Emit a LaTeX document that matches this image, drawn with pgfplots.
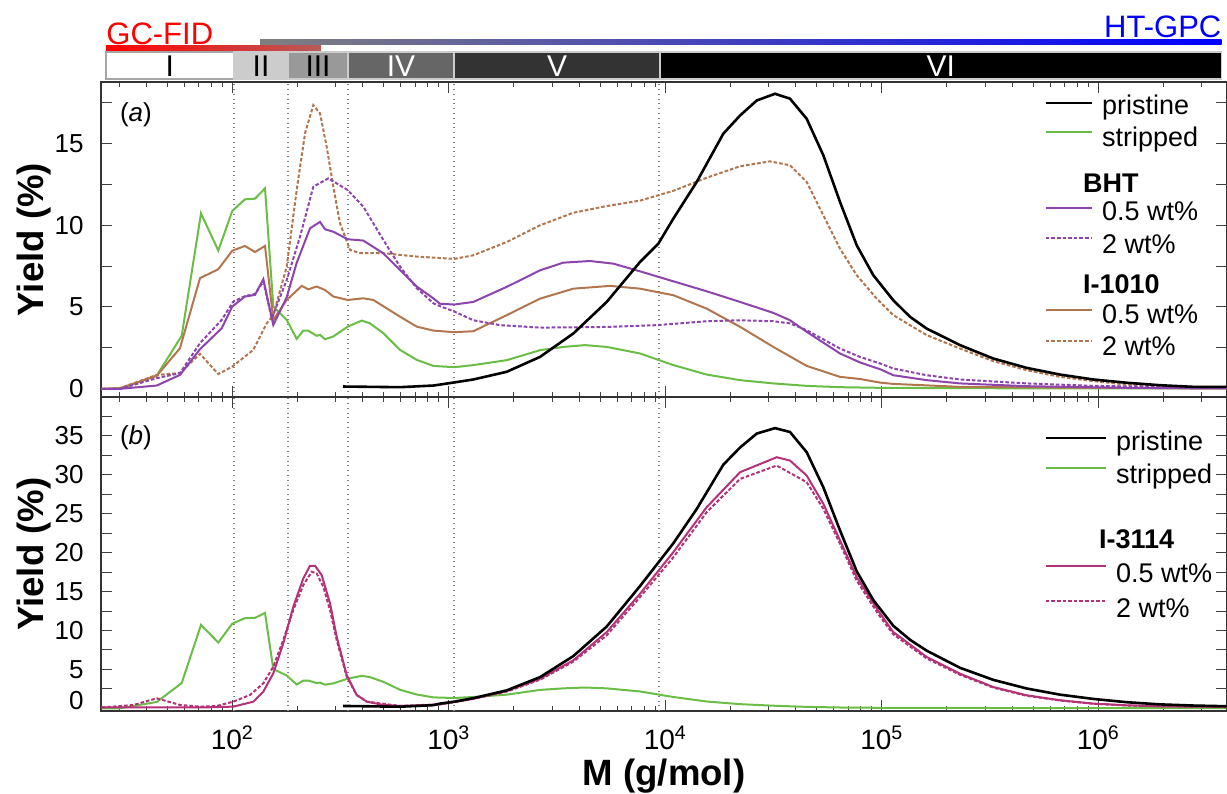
\documentclass[border=0pt]{standalone}
\usepackage{fontspec}
\setmainfont{Liberation Sans}
\usepackage{pgfplots}
\pgfplotsset{compat=1.18}
\definecolor{cgreen}{RGB}{106,190,70}
\definecolor{cpurple}{RGB}{142,68,173}
\definecolor{cbrown}{RGB}{178,118,78}
\definecolor{cmag}{RGB}{180,50,120}
\definecolor{gcend}{RGB}{185,90,90}
\newcommand\fs[1]{\fontsize{#1}{#1}\selectfont}
\begin{document}
\begin{tikzpicture}
% ---------------- panel (a) ----------------
\begin{axis}[scale only axis, width=563pt, xmode=log,
  xmin=24.75, xmax=3.93e6,
  axis line style={black!80, line width=0.8pt},
  tick style={black!75, line width=0.5pt},
  major tick length=5.5pt, minor tick length=2.5pt,
  ylabel style={font=\bfseries\fs{18.3}, at={(axis description cs:-0.0515,0.5)}, anchor=base},
  legend cell align=left,
  legend style={draw=none, fill=none, inner sep=0pt, row sep=0pt, nodes={inner sep=0.5pt, text depth=0pt}, font=\fs{13.5}},
  xtick={1e2,1e3,1e4,1e5,1e6},
  minor xtick={30,40,50,60,70,80,90,200,300,400,500,600,700,800,900,2000,3000,4000,5000,6000,7000,8000,9000,2e4,3e4,4e4,5e4,6e4,7e4,8e4,9e4,2e5,3e5,4e5,5e5,6e5,7e5,8e5,9e5,2e6,3e6},
  extra x ticks={101.8,180.9,342.3,1057,9350},
  extra x tick labels={},
  extra x tick style={grid=major, major grid style={black!50, dotted, line width=0.6pt}, major tick length=0pt},
  at={(0pt,157pt)}, anchor=south west, height=157.5pt,
  ymin=-0.5, ymax=18.75, ytick={0,5,10,15}, yticklabels={},
  extra y ticks={2.5,7.5,12.5,17.5}, extra y tick labels={},
  xticklabels={}, clip=false,
  ylabel={Yield (\%)},
  legend style={at={(axis description cs:0.8375,0.976)}, anchor=north west},
  legend image code/.code={\draw[#1] (0pt,0pt) -- (23pt,0pt); \path (27pt,0pt);},
]
\addlegendimage{black, line width=1.3pt}\addlegendentry{\rule{0pt}{12pt}pristine}
\addlegendimage{cgreen, line width=1pt}\addlegendentry{\rule{0pt}{15pt}stripped}
\addlegendimage{empty legend}\addlegendentry{\hspace*{-9.5pt}\rule{0pt}{22pt}\textbf{BHT}}
\addlegendimage{cpurple, line width=1pt}\addlegendentry{\rule{0pt}{12.7pt}0.5 wt\%}
\addlegendimage{cpurple, line width=1pt, dash pattern=on 1.8pt off 1pt}\addlegendentry{\rule{0pt}{15.65pt}2 wt\%}
\addlegendimage{empty legend}\addlegendentry{\hspace*{-9.5pt}\rule{0pt}{19pt}\textbf{I-1010}}
\addlegendimage{cbrown, line width=1pt}\addlegendentry{\rule{0pt}{14pt}0.5 wt\%}
\addlegendimage{cbrown, line width=1pt, dash pattern=on 1.8pt off 1pt}\addlegendentry{\rule{0pt}{14.85pt}2 wt\%}

% stripped
\addplot[cgreen, line width=1pt, forget plot] coordinates {
(24.94,0) (30.29,0) (44.76,0.81) (58.39,3.24) (71.69,10.72) (86.16,8.45) (100,10.87) (114.4,11.58) (127.3,11.62) (141.6,12.25) (154.7,5.03) (178.4,4.21) (198.4,3.05) (212.8,3.56) (224.4,3.55) (245.4,3.24) (254.2,3.3) (268.1,3.03) (292.8,3.2) (341.2,3.8) (396,4.17) (432.5,4.0) (498.3,3.4) (595.1,2.38) (710.8,1.77) (848.2,1.4) (1060,1.32) (1298,1.45) (1851,1.75) (2638,2.36) (3380,2.56) (4257,2.67) (5362,2.56) (7640,2.16) (10890,1.45) (15530,0.87) (22130,0.53) (31540,0.33) (44990,0.18) (64110,0.1) (98100,0.06) (229700,0.04) (948200,0.02) (3.918e6,0.02)};
% I-1010 2 wt%
\addplot[cbrown, line width=1pt, dash pattern=on 1.8pt off 1pt, forget plot] coordinates {
(24.94,0) (30.29,0.04) (44.76,0.85) (57.33,0.96) (70.93,2.14) (86.16,0.9) (100,1.36) (125,2.38) (144.2,4.0) (154.7,4.5) (178.4,7.47) (198.4,12.15) (216.7,15.61) (236.7,17.34) (254.2,16.83) (272.9,14.79) (292.8,12.35) (314.4,10.12) (349.7,8.49) (388.9,8.29) (498.3,8.29) (710.8,8.08) (1060,7.94) (1298,8.16) (1851,8.97) (2638,9.99) (3759,10.76) (5362,11.17) (7640,11.5) (10890,12.1) (15530,12.9) (22130,13.6) (30450,13.9) (37670,13.66) (44990,12.64) (53690,10.6) (64110,8.57) (76590,6.94) (94730,5.51) (113000,4.5) (161250,3.28) (229700,2.46) (327300,1.69) (466900,1.14) (665500,0.73) (948200,0.47) (1.353e6,0.26) (1.928e6,0.18) (2.747e6,0.12) (3.918e6,0.12)};
% I-1010 0.5 wt%
\addplot[cbrown, line width=1pt, forget plot] coordinates {
(24.94,0) (30.29,0.04) (44.76,0.79) (57.33,2.48) (70.93,6.76) (86.16,7.31) (100,8.44) (114.4,8.73) (127.3,8.36) (141.6,8.73) (154.7,4.21) (178.4,5.43) (209.2,6.29) (224.4,6.08) (245.4,6.25) (268.1,6.04) (292.8,5.64) (341.2,5.43) (402.8,5.53) (448,5.43) (595.1,4.41) (710.8,3.8) (848.2,3.56) (1060,3.46) (1298,3.52) (1851,4.5) (2638,5.51) (3759,6.12) (5554,6.29) (7640,6.12) (10890,5.72) (15530,4.9) (22130,3.79) (31540,2.56) (44990,1.4) (64110,0.73) (79320,0.6) (98100,0.38) (113000,0.3) (229700,0.12) (948200,0.06) (3.918e6,0.02)};
% BHT 2 wt%
\addplot[cpurple, line width=1pt, dash pattern=on 1.8pt off 1pt, forget plot] coordinates {
(24.94,0) (30.29,0) (44.76,0.65) (57.33,0.96) (70.93,2.79) (89.33,4.21) (101.1,5.33) (114.4,5.66) (127.3,5.8) (139.1,6.55) (152.1,4.3) (178.4,6.65) (205.5,9.3) (236.7,12.35) (277.6,12.86) (341.2,12.15) (402.8,11.13) (498.3,9.1) (595.1,7.47) (710.8,6.15) (848.2,5.23) (910.9,5.05) (1060,4.72) (1298,4.19) (1724,3.89) (2638,3.74) (5362,3.78) (9127,3.89) (15530,4.13) (22130,4.19) (31540,4.13) (37670,4.0) (44990,3.58) (64110,2.46) (79320,1.95) (98100,1.55) (113000,1.24) (161250,0.83) (229700,0.57) (466900,0.33) (948200,0.18) (1.928e6,0.12) (3.918e6,0.05)};
% BHT 0.5 wt%
\addplot[cpurple, line width=1pt, forget plot] coordinates {
(24.94,0) (30.29,0) (44.76,0.2) (57.33,0.85) (70.93,2.42) (89.33,3.7) (100,5.03) (114.4,5.64) (127.3,5.74) (139.1,6.7) (154.7,3.9) (178.4,5.6) (198.4,7.7) (228.5,9.81) (254.2,10.2) (268.1,9.75) (292.8,9.6) (341.2,9.14) (402.8,9.06) (498.3,8.28) (595.1,7.26) (710.8,6.25) (848.2,5.53) (910.9,5.2) (1060,5.15) (1298,5.31) (1851,6.23) (2638,7.24) (3380,7.71) (4489,7.81) (5752,7.65) (7640,7.18) (10890,6.57) (15530,5.96) (22130,5.31) (31540,4.64) (37670,4.19) (44990,3.48) (64110,2.16) (79320,1.61) (98100,1.2) (113000,0.83) (161250,0.53) (229700,0.33) (466900,0.16) (1.353e6,0.06) (3.918e6,0.02)};
% pristine
\addplot[black, line width=1.3pt, forget plot] coordinates {
(324.6,0.14) (595.1,0.1) (848.2,0.2) (910.9,0.26) (1060,0.39) (1298,0.57) (1851,1.04) (2638,1.95) (3759,3.38) (5362,5.31) (7640,7.75) (9284,8.87) (10890,10.4) (13960,12.64) (18530,15.59) (22130,16.7) (26440,17.62) (32120,18.03) (37670,17.73) (44990,16.5) (53690,14.27) (64110,11.42) (76590,8.77) (91360,6.94) (113000,5.41) (134970,4.4) (161250,3.68) (229700,2.67) (327300,1.85) (466900,1.28) (665500,0.87) (948200,0.57) (1.353e6,0.37) (1.928e6,0.22) (2.747e6,0.12) (3.918e6,0.12)};

% y tick labels
\node[font=\fs{13}, anchor=east, inner sep=0pt, xshift=-8.5pt] at (axis cs:24.75,0) {0};
\node[font=\fs{13}, anchor=east, inner sep=0pt, xshift=-8.5pt] at (axis cs:24.75,5) {5};
\node[font=\fs{13}, anchor=east, inner sep=0pt, xshift=-8.5pt] at (axis cs:24.75,10) {10};
\node[font=\fs{13}, anchor=east, inner sep=0pt, xshift=-8.5pt] at (axis cs:24.75,15) {15};

\node[font=\fs{13}] at (axis description cs:0.031,0.897) {(\textit{a})};

% region band
\filldraw[line width=0.6pt, fill=white, draw=gray!70] (axis cs:26.1,18.933) rectangle (axis cs:101.8,20.583);
\filldraw[line width=0.6pt, fill=black!20, draw=gray!40] (axis cs:101.8,18.933) rectangle (axis cs:180.9,20.583);
\filldraw[line width=0.6pt, fill=black!40, draw=gray!40] (axis cs:180.9,18.933) rectangle (axis cs:342.3,20.583);
\filldraw[line width=0.6pt, fill=black!60, draw=gray!40] (axis cs:342.3,18.933) rectangle (axis cs:1057,20.583);
\filldraw[line width=0.6pt, fill=black!80, draw=gray!40] (axis cs:1057,18.933) rectangle (axis cs:9452,20.583);
\filldraw[line width=0.6pt, fill=black, draw=gray!40] (axis cs:9452,18.933) rectangle (axis cs:3.715e6,20.583);
\node[font=\fs{15}, anchor=base, inner sep=0pt] at (axis cs:51.5,19.08) {I};
\node[font=\fs{15}, anchor=base, inner sep=0pt] at (axis cs:135.7,19.08) {II};
\node[font=\fs{15}, anchor=base, inner sep=0pt] at (axis cs:248.8,19.08) {III};
\node[font=\fs{15}, anchor=base, inner sep=0pt, text=white] at (axis cs:601.5,19.08) {IV};
\node[font=\fs{15}, anchor=base, inner sep=0pt, text=white] at (axis cs:3161,19.08) {V};
\node[font=\fs{15}, anchor=base, inner sep=0pt, text=white] at (axis cs:187400,19.08) {VI};
\shade[left color=red, right color=gcend] (axis cs:26.1,20.666) rectangle (axis cs:256.9,20.953);
\shade[left color=gray, right color=blue] (axis cs:134.3,21.03) rectangle (axis cs:3.715e6,21.32);
\node[font=\fs{15.5}, text=red, anchor=base west, inner sep=0pt] at (axis cs:26.1,21.072) {GC-FID};
\node[font=\fs{15.5}, text=blue, anchor=base east, inner sep=0pt] at (axis cs:3.715e6,21.47) {HT-GPC};
\end{axis}

% ---------------- panel (b) ----------------
\begin{axis}[scale only axis, width=563pt, xmode=log,
  xmin=24.75, xmax=3.93e6,
  axis line style={black!80, line width=0.8pt},
  tick style={black!75, line width=0.5pt},
  major tick length=5.5pt, minor tick length=2.5pt,
  ylabel style={font=\bfseries\fs{18.3}, at={(axis description cs:-0.0515,0.5)}, anchor=base},
  xlabel style={font=\bfseries\fs{18.3}, at={(axis description cs:0.5,0)}, anchor=base, yshift=-37pt},
  legend cell align=left,
  legend style={draw=none, fill=none, inner sep=0pt, row sep=0pt, nodes={inner sep=0.5pt, text depth=0pt}, font=\fs{13.5}},
  xtick={1e2,1e3,1e4,1e5,1e6},
  minor xtick={30,40,50,60,70,80,90,200,300,400,500,600,700,800,900,2000,3000,4000,5000,6000,7000,8000,9000,2e4,3e4,4e4,5e4,6e4,7e4,8e4,9e4,2e5,3e5,4e5,5e5,6e5,7e5,8e5,9e5,2e6,3e6},
  extra x ticks={101.8,180.9,342.3,1057,9350},
  extra x tick labels={},
  extra x tick style={grid=major, major grid style={black!50, dotted, line width=0.6pt}, major tick length=0pt},
  at={(0pt,0pt)}, anchor=south west, height=157pt,
  ymin=-0.35, ymax=40, ytick={0,5,10,15,20,25,30,35}, yticklabels={},
  extra y ticks={2.5,7.5,12.5,17.5,22.5,27.5,32.5,37.5}, extra y tick labels={},
  xticklabels={}, clip=false,
  ylabel={Yield (\%)}, xlabel={M (g/mol)},
  legend style={at={(axis description cs:0.8375,0.914)}, anchor=north west},
  legend image code/.code={\draw[#1] (0pt,0pt) -- (30pt,0pt); \path (34pt,0pt);},
]
\addlegendimage{black, line width=1.3pt}\addlegendentry{\rule{0pt}{12.5pt}pristine}
\addlegendimage{cgreen, line width=1pt}\addlegendentry{\rule{0pt}{15.7pt}stripped}
\addlegendimage{empty legend}\addlegendentry{\hspace*{-8.5pt}\rule{0pt}{31.5pt}\textbf{I-3114}}
\addlegendimage{cmag, line width=1pt}\addlegendentry{\rule{0pt}{15.65pt}0.5 wt\%}
\addlegendimage{cmag, line width=1pt, dash pattern=on 1.8pt off 1pt}\addlegendentry{\rule{0pt}{16.5pt}2 wt\%}

% stripped
\addplot[cgreen, line width=1pt, forget plot] coordinates {
(24.94,0) (30.29,0) (44.76,0.81) (58.39,3.24) (71.69,10.72) (86.16,8.45) (100,10.87) (114.4,11.58) (127.3,11.62) (141.6,12.25) (154.7,5.03) (178.4,4.21) (198.4,3.05) (212.8,3.56) (224.4,3.55) (245.4,3.24) (254.2,3.3) (268.1,3.03) (292.8,3.2) (341.2,3.8) (396,4.17) (432.5,4.0) (498.3,3.4) (595.1,2.38) (710.8,1.77) (848.2,1.4) (1060,1.32) (1298,1.45) (1851,1.75) (2638,2.36) (3380,2.56) (4257,2.67) (5362,2.56) (7640,2.16) (10890,1.45) (15530,0.87) (22130,0.53) (31540,0.33) (44990,0.18) (64110,0.1) (98100,0.06) (229700,0.04) (948200,0.02) (3.918e6,0.02)};
% I-3114 2 wt%
\addplot[cmag, line width=1pt, dash pattern=on 1.8pt off 1pt, forget plot] coordinates {
(24.94,0.1) (34.88,0.42) (44.76,1.28) (57.33,0.43) (70.93,0.21) (84.75,0.3) (101.1,0.85) (120.7,1.71) (139.1,3.21) (154.7,5.34) (172,8.77) (191.3,12.62) (212.8,15.83) (232.7,17.54) (245.4,17.33) (263.3,15.61) (282.7,12.62) (303.5,8.77) (337.6,4.06) (375.4,1.71) (417.6,0.85) (595.1,0.3) (910.9,0.51) (1060,0.8) (1298,1.2) (1851,2.14) (2638,3.67) (3759,5.99) (5362,9.37) (7640,14.28) (10890,19.4) (15530,25.2) (22130,29.47) (32700,31.19) (44990,29.05) (53690,25.62) (64110,21.14) (76590,16.4) (96000,12.15) (113000,9.5) (161250,6.4) (229700,4.3) (327300,2.65) (466900,1.6) (665500,1.0) (948200,0.58) (1.353e6,0.36) (1.928e6,0.25) (3.918e6,0.16)};
% I-3114 0.5 wt%
\addplot[cmag, line width=1pt, forget plot] coordinates {
(24.94,0.1) (49.77,0.1) (70.93,0.1) (101.1,0.21) (125,0.85) (139.1,2.14) (154.7,4.49) (172,8.34) (191.3,13.04) (212.8,16.69) (228.5,18.31) (241,18.31) (258.8,17.11) (282.7,13.48) (303.5,9.19) (337.6,4.27) (375.4,1.71) (417.6,0.85) (498.3,0.43) (595.1,0.3) (848.2,0.43) (910.9,0.51) (1060,0.8) (1298,1.24) (1851,2.22) (2638,3.8) (3759,6.16) (5362,9.79) (7640,14.71) (10890,20.06) (15530,25.84) (22130,30.33) (32700,32.26) (37670,31.83) (44990,29.9) (53690,26.27) (64110,21.57) (76590,16.85) (96000,12.58) (113000,9.79) (161250,6.59) (229700,4.44) (327300,2.73) (466900,1.67) (665500,1.03) (948200,0.6) (1.353e6,0.38) (1.928e6,0.26) (3.918e6,0.17)};
% pristine
\addplot[black, line width=1.3pt, forget plot] coordinates {
(324.6,0.3) (595.1,0.2) (848.2,0.4) (910.9,0.6) (1060,0.85) (1298,1.3) (1851,2.3) (2638,4.0) (3759,6.7) (5362,10.5) (7640,15.7) (10890,21.2) (13960,25.6) (18530,31.3) (22130,33.5) (26440,35.3) (32120,36.0) (37670,35.5) (44990,32.9) (53690,28.4) (64110,22.85) (76590,17.6) (91360,13.9) (113000,10.6) (134970,8.8) (161250,7.4) (229700,5.2) (327300,3.65) (466900,2.54) (665500,1.75) (948200,1.2) (1.353e6,0.78) (1.928e6,0.5) (2.747e6,0.35) (3.918e6,0.26)};

% y tick labels
\node[font=\fs{13}, anchor=east, inner sep=0pt, xshift=-8.5pt, yshift=3.7pt] at (axis cs:24.75,0) {0};
\node[font=\fs{13}, anchor=east, inner sep=0pt, xshift=-8.5pt] at (axis cs:24.75,5) {5};
\node[font=\fs{13}, anchor=east, inner sep=0pt, xshift=-8.5pt] at (axis cs:24.75,10) {10};
\node[font=\fs{13}, anchor=east, inner sep=0pt, xshift=-8.5pt] at (axis cs:24.75,15) {15};
\node[font=\fs{13}, anchor=east, inner sep=0pt, xshift=-8.5pt] at (axis cs:24.75,20) {20};
\node[font=\fs{13}, anchor=east, inner sep=0pt, xshift=-8.5pt] at (axis cs:24.75,25) {25};
\node[font=\fs{13}, anchor=east, inner sep=0pt, xshift=-8.5pt] at (axis cs:24.75,30) {30};
\node[font=\fs{13}, anchor=east, inner sep=0pt, xshift=-8.5pt] at (axis cs:24.75,35) {35};
% x tick labels
\node[font=\fs{14}, anchor=base, inner sep=0pt, yshift=-19.5pt] at (axis cs:100,-0.35) {10\textsuperscript{2}};
\node[font=\fs{14}, anchor=base, inner sep=0pt, yshift=-19.5pt] at (axis cs:1000,-0.35) {10\textsuperscript{3}};
\node[font=\fs{14}, anchor=base, inner sep=0pt, yshift=-19.5pt] at (axis cs:10000,-0.35) {10\textsuperscript{4}};
\node[font=\fs{14}, anchor=base, inner sep=0pt, yshift=-19.5pt] at (axis cs:100000,-0.35) {10\textsuperscript{5}};
\node[font=\fs{14}, anchor=base, inner sep=0pt, yshift=-19.5pt] at (axis cs:1000000,-0.35) {10\textsuperscript{6}};

\node[font=\fs{13}] at (axis description cs:0.031,0.871) {(\textit{b})};
\end{axis}
\pgfresetboundingbox
\path[use as bounding box] (-50.5pt,-41pt) rectangle (563pt,355.5pt);
\end{tikzpicture}
\end{document}
